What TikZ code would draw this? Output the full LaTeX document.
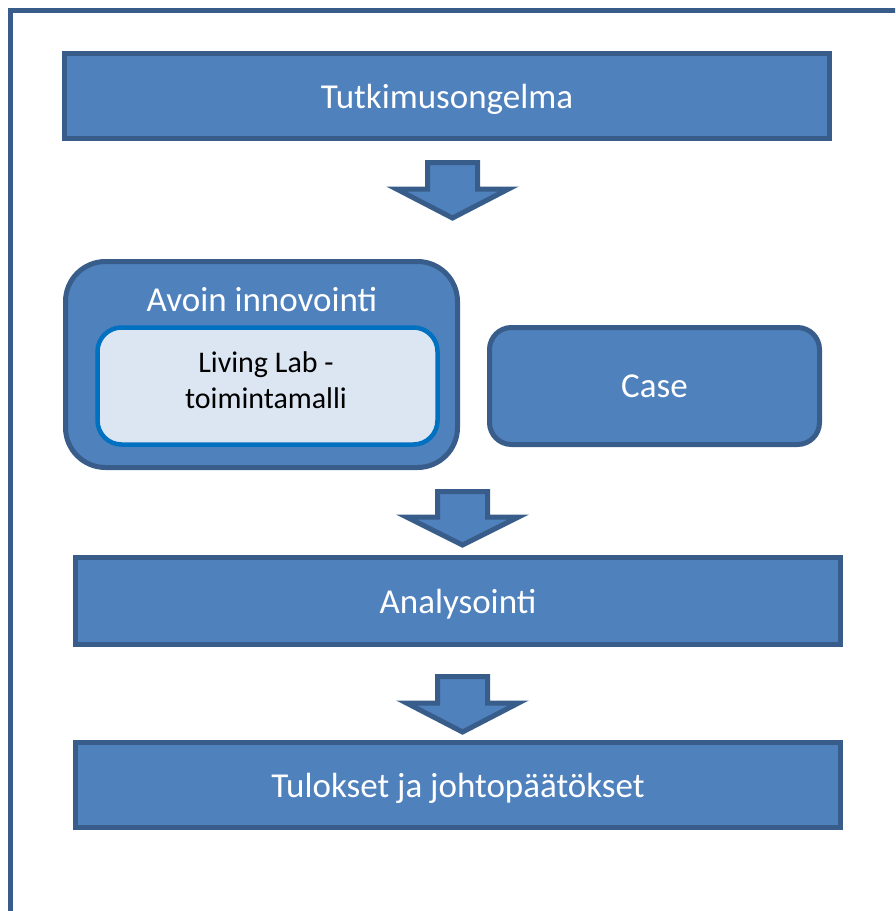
\documentclass[tikz,border=0pt]{standalone}
\usepackage{fontspec}
\setmainfont{Carlito}
\usetikzlibrary{calc}
\definecolor{boxfill}{HTML}{4F81BD}
\definecolor{boxline}{HTML}{385D8A}
\definecolor{innerfill}{HTML}{DCE6F2}
\definecolor{innerline}{HTML}{0070C0}
\tikzset{
  blockbox/.style={draw=boxline, fill=boxfill, line width=5pt, inner sep=0pt, outer sep=0pt,
    text=white, font=\fontsize{35}{40}\selectfont, text depth=0pt, line join=miter},
  roundbox/.style={blockbox, rounded corners=#1},
  innerbox/.style={draw=innerline, fill=innerfill, line width=4.5pt, inner sep=0pt, outer sep=0pt,
    rounded corners=24pt},
  downarrow/.style={draw=boxline, fill=boxfill, line width=5pt, line join=miter},
  label/.style={inner sep=0pt, text=white, font=\fontsize{35}{40}\selectfont},
}
\begin{document}
\begin{tikzpicture}[x=1pt,y=-1pt]
\useasboundingbox (0,0) rectangle (895,911);
\clip (0,0) rectangle (895,911);

% page frame (only the left and top edges fall inside)
\draw[boxline, line width=5pt] (10,930) -- (10,10) -- (920,10);

% main boxes
\node[blockbox, minimum width=765pt, minimum height=85pt] (problem) at (447,96) {Tutkimusongelma};
\node[roundbox=40pt, minimum width=392pt, minimum height=206pt] (open) at (261.5,364.5) {};
\node[label] (opentitle) at (262,300) {Avoin innovointi};
\node[innerbox, minimum width=340pt, minimum height=117pt] (livinglab) at (267.5,386) {};
\node[inner sep=0pt, align=center, font=\fontsize{30}{36}\selectfont]
  (livinglabtext) at (266,380) {Living Lab -\\toimintamalli};
\node[roundbox=22pt, minimum width=330pt, minimum height=117pt] (case) at (654.5,386) {Case};
\node[blockbox, minimum width=765pt, minimum height=87pt] (analysis) at (458,601) {Analysointi};
\node[blockbox, minimum width=765pt, minimum height=85pt] (results) at (458,785) {Tulokset ja johtopäätökset};

% block arrows between the stages
\newcommand{\blockarrow}[4]{% centre x, shaft top, head top, tip
  \draw[downarrow] (#1-25,#2) -- (#1+25,#2) -- (#1+25,#3) -- (#1+56,#3)
    -- (#1,#4) -- (#1-56,#3) -- (#1-25,#3) -- cycle;}
\blockarrow{452.5}{162.5}{189}{218}
\blockarrow{462.5}{491.5}{517}{545}
\blockarrow{462.5}{676.5}{703}{732}
\end{tikzpicture}
\end{document}
